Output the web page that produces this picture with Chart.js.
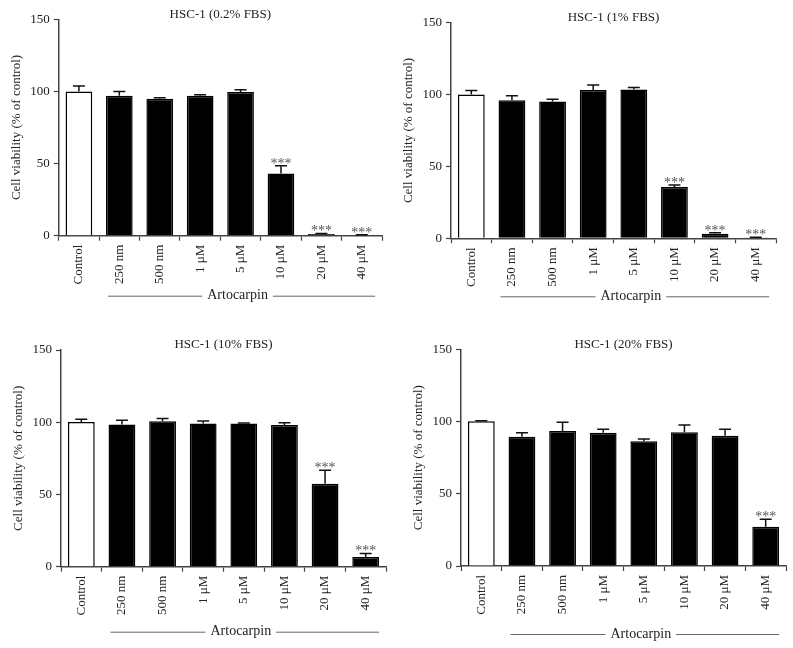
<!DOCTYPE html>
<html>
<head>
<meta charset="utf-8">
<script src="https://cdn.jsdelivr.net/npm/chart.js@4.4.1/dist/chart.umd.min.js"></script>
<style>
  html, body { margin: 0; padding: 0; background: #fff; }
  #page { position: relative; width: 793px; height: 648px; overflow: hidden; }
  canvas { position: absolute; }
</style>
</head>
<body>
<div id="page">
  <canvas id="c1" width="396" height="320" style="left:0;top:0"></canvas>
  <canvas id="c2" width="397" height="320" style="left:396px;top:0"></canvas>
  <canvas id="c3" width="396" height="328" style="left:0;top:320px"></canvas>
  <canvas id="c4" width="397" height="328" style="left:396px;top:320px"></canvas>
</div>
<script>
// categories
const categories = ["Control", "250 nm", "500 nm", "1 \u03bcM", "5 \u03bcM", "10 \u03bcM", "20 \u03bcM", "40 \u03bcM"];
const titles = ["HSC-1 (0.2% FBS)", "HSC-1 (1% FBS)", "HSC-1 (10% FBS)", "HSC-1 (20% FBS)"];
const groupLabel = "Artocarpin";
const yTicks = [0, 50, 100, 150];

// mean cell viability (% of control)
const fbs02 = [100, 97, 95, 97, 99.6, 43.2, 1.2, 0.5];
const fbs1 = [100, 96, 95.1, 103.2, 103.6, 35.7, 3.2, 0.5];
const fbs10 = [100.2, 98.5, 100.6, 99.2, 99.2, 98, 57.5, 6.7];
const fbs20 = [100.2, 89.5, 93.5, 92.3, 86.3, 92.5, 90.2, 27.2];

// upper error (SD)
const err02 = [3.8, 3, 0.7, 0.7, 1.6, 5.3, 0.4, 0.2];
const err1 = [2.8, 3.2, 1.6, 3.5, 1.4, 1.4, 0.7, 0.2];
const err10 = [1.8, 2.8, 1.9, 1.6, 0.3, 1.7, 9.2, 2.5];
const err20 = [0.4, 2.8, 6, 2.3, 1.6, 5.1, 4.4, 5.1];

// *** p < 0.001
const sig02 = [0, 0, 0, 0, 0, 1, 1, 1];
const sig1 = [0, 0, 0, 0, 0, 1, 1, 1];
const sig10 = [0, 0, 0, 0, 0, 0, 1, 1];
const sig20 = [0, 0, 0, 0, 0, 0, 0, 1];

const fontFam = '"Liberation Serif", "DejaVu Serif", serif';
Chart.defaults.font.family = fontFam;
Chart.defaults.color = "#222";

// draws error bars, stars, panel title and the Artocarpin bracket
const annotate = {
  id: "annotate",
  afterDatasetsDraw(chart, args, o) {
    const ctx = chart.ctx;
    const area = chart.chartArea;
    const y = chart.scales.y;
    const bars = chart.getDatasetMeta(0).data;
    ctx.save();
    bars.forEach((bar, i) => {
      const base = y.getPixelForValue(o.means[i]);
      const top = y.getPixelForValue(o.means[i] + o.errs[i]);
      ctx.strokeStyle = "#111";
      ctx.lineWidth = 1.5;
      ctx.beginPath();
      ctx.moveTo(bar.x, base);
      ctx.lineTo(bar.x, top);
      ctx.moveTo(bar.x - 6, top);
      ctx.lineTo(bar.x + 6, top);
      ctx.stroke();
      if (o.sig[i]) {
        ctx.fillStyle = "#555";
        ctx.font = "14px " + fontFam;
        ctx.textAlign = "center";
        ctx.textBaseline = "alphabetic";
        [-7, 0, 7].forEach(dx => ctx.fillText("*", bar.x + dx, top + 2));
      }
    });

    // title
    ctx.fillStyle = "#222";
    ctx.font = "13px " + fontFam;
    ctx.textAlign = "center";
    ctx.textBaseline = "middle";
    ctx.fillText(o.title, (area.left + area.right) / 2, area.top - 5);

    // bracket
    const first = bars[1], last = bars[bars.length - 1];
    const left = first.x - first.width / 2 + 2;
    const right = last.x + last.width / 2;
    const by = area.bottom + o.bracketGap;
    const mid = (left + right) / 2 - 4;
    ctx.font = "14px " + fontFam;
    const tw = ctx.measureText(groupLabel).width;
    ctx.fillText(groupLabel, mid, by);
    ctx.strokeStyle = "#666";
    ctx.lineWidth = 1;
    ctx.beginPath();
    ctx.moveTo(left, by + 0.5);
    ctx.lineTo(mid - tw / 2 - 5, by + 0.5);
    ctx.moveTo(mid + tw / 2 + 5, by + 0.5);
    ctx.lineTo(right, by + 0.5);
    ctx.stroke();
    ctx.restore();
  }
};

function makePanel(id, canvasBox, plotBox, title, means, errs, sig, bracketGap) {
  const yW = 50;
  const padLeft = plotBox[0] - canvasBox[0] - yW;
  const padTop = plotBox[1] - canvasBox[1];
  const padRight = canvasBox[0] + canvasBox[2] - plotBox[2];
  const xH = canvasBox[1] + canvasBox[3] - plotBox[3];
  new Chart(document.getElementById(id), {
    type: "bar",
    data: {
      labels: categories,
      datasets: [{
        data: means,
        backgroundColor: means.map((v, i) => i === 0 ? "#fff" : "#000"),
        borderColor: "#000",
        borderWidth: 1.5,
        barPercentage: 0.66,
        categoryPercentage: 1
      }]
    },
    options: {
      responsive: false,
      animation: false,
      devicePixelRatio: 1,
      layout: { padding: { left: padLeft, top: padTop, right: padRight, bottom: 0 } },
      plugins: {
        legend: { display: false },
        tooltip: { enabled: false },
        annotate: { title, means, errs, sig, bracketGap }
      },
      scales: {
        x: {
          afterFit: s => { s.height = xH; },
          grid: { drawOnChartArea: false, tickLength: 5, tickColor: "#444", tickWidth: 1.2 },
          border: { color: "#444", width: 1.5 },
          ticks: {
            autoSkip: false, minRotation: 90, maxRotation: 90, padding: 4,
            font: { size: 13 }, color: "#222"
          }
        },
        y: {
          min: 0, max: 150,
          afterFit: s => { s.width = yW; },
          afterBuildTicks: s => { s.ticks = yTicks.map(v => ({ value: v })); },
          grid: { drawOnChartArea: false, tickLength: 5, tickColor: "#444", tickWidth: 1.2 },
          border: { color: "#444", width: 1.5 },
          ticks: { padding: 4, font: { size: 13 }, color: "#222" },
          title: {
            display: true, text: "Cell viability (% of control)",
            font: { size: 13 }, color: "#222", padding: { top: 0, bottom: 0 }
          }
        }
      }
    },
    plugins: [annotate]
  });
}

makePanel("c1", [0, 0, 396, 320], [58.7, 19.3, 382, 235.7], titles[0], fbs02, err02, sig02, 60);
makePanel("c2", [396, 0, 397, 320], [451, 22.7, 776, 238.3], titles[1], fbs1, err1, sig1, 58);
makePanel("c3", [0, 320, 396, 328], [61, 350, 386, 566.7], titles[2], fbs10, err10, sig10, 65);
makePanel("c4", [396, 320, 397, 328], [461, 349.3, 786, 566], titles[3], fbs20, err20, sig20, 68);
</script>
</body>
</html>
